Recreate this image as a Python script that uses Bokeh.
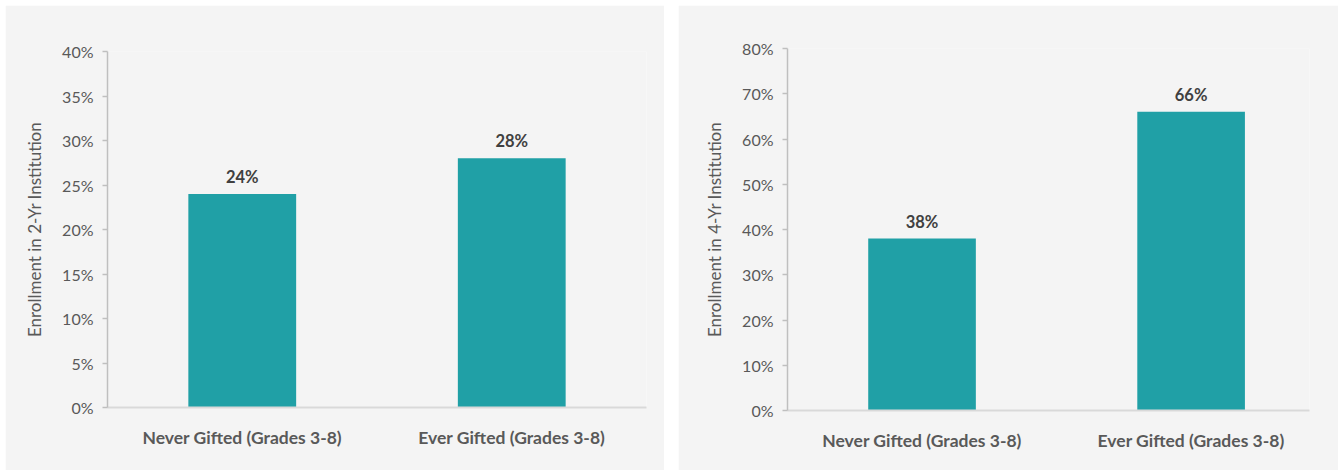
from bokeh.plotting import figure
from bokeh.layouts import row, column
from bokeh.models import ColumnDataSource, FixedTicker, PrintfTickFormatter, Range1d
from bokeh.embed import file_html
from bokeh.resources import INLINE

categories = ["Never Gifted (Grades 3-8)", "Ever Gifted (Grades 3-8)"]
two_yr = [24, 28]
four_yr = [38, 66]
two_yr_ticks = [0, 5, 10, 15, 20, 25, 30, 35, 40]
four_yr_ticks = [0, 10, 20, 30, 40, 50, 60, 70, 80]

BG = "#f4f4f4"
BAR = "#20a0a6"
FONT = "Lato"


def make_panel(values, ticks, ylabel, width, height, x_end, borders):
    left, right, top, bottom = borders
    xs = [i + 0.5 for i in range(len(categories))]
    src = ColumnDataSource(dict(x=xs, top=values, label=[f"{v}%" for v in values]))
    p = figure(width=width, height=height, output_backend="svg", toolbar_location=None,
               x_range=Range1d(0, x_end), y_range=Range1d(ticks[0], ticks[-1]),
               min_border_left=left, min_border_right=right,
               min_border_top=top, min_border_bottom=bottom)
    p.background_fill_color = BG
    p.border_fill_color = BG
    p.outline_line_color = None
    p.grid.grid_line_color = None

    p.vbar(x="x", top="top", width=0.4, bottom=0, source=src,
           fill_color=BAR, line_color=None)
    p.text(x="x", y="top", text="label", source=src, text_align="center",
           text_baseline="middle", y_offset=-17, text_font_size="16.5px",
           text_font_style="bold", text_color="#404040",
           text_font={"value": FONT})

    # y axis
    ya = p.yaxis[0]
    ya.ticker = FixedTicker(ticks=ticks)
    ya.formatter = PrintfTickFormatter(format="%d%%")
    ya.axis_line_color = "#bfbfbf"
    ya.axis_line_width = 1.5
    ya.major_tick_line_color = "#bfbfbf"
    ya.major_tick_line_width = 1.5
    ya.major_tick_out = 5
    ya.major_tick_in = 0
    ya.minor_tick_line_color = None
    ya.major_label_standoff = 9
    ya.major_label_text_font = FONT
    ya.major_label_text_font_size = "16px"
    ya.major_label_text_color = "#595959"
    ya.axis_label = ylabel
    ya.axis_label_text_font = FONT
    ya.axis_label_text_font_size = "17px"
    ya.axis_label_text_font_style = "normal"
    ya.axis_label_text_color = "#595959"
    ya.axis_label_standoff = 14

    # x axis
    xa = p.xaxis[0]
    xa.ticker = FixedTicker(ticks=xs)
    xa.major_label_overrides = {x: c for x, c in zip(xs, categories)}
    xa.axis_line_color = "#d9d9d9"
    xa.axis_line_width = 2
    xa.major_tick_line_color = None
    xa.minor_tick_line_color = None
    xa.major_tick_out = 0
    xa.major_label_standoff = 19
    xa.major_label_text_font = FONT
    xa.major_label_text_font_size = "17.5px"
    xa.major_label_text_font_style = "bold"
    xa.major_label_text_color = "#595959"
    return p


p1 = make_panel(two_yr, two_yr_ticks, "Enrollment in 2-Yr Institution",
                659, 465, 2.0, (102, 18, 46, 63))
p2 = make_panel(four_yr, four_yr_ticks, "Enrollment in 4-Yr Institution",
                660, 465, 1.94, (109, 29, 43, 60))

layout = row(column(p1), column(p2), spacing=14, margin=(5, 0, 0, 5))
open("out.html", "w").write(file_html(layout, INLINE))
